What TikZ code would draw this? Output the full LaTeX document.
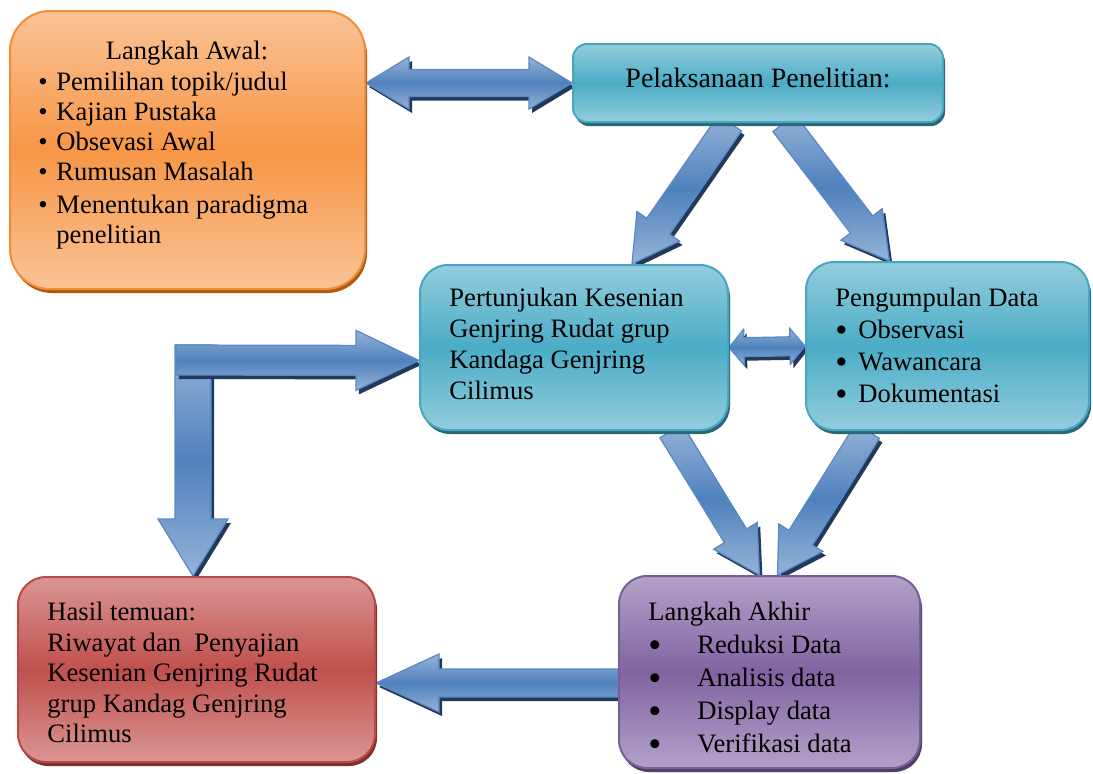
\documentclass[tikz,border=0pt]{standalone}
\usepackage{fontspec}
\setmainfont{Liberation Serif}
\usepackage{graphicx}
\usepackage{tikz}
\usetikzlibrary{
  calc,%
  % drop shadows for boxes and block arrows
  shadows,%
  positioning
}
\definecolor{orangelight}{HTML}{FAC396}
\definecolor{orangemid}{HTML}{F79646}
\definecolor{orangeline}{HTML}{F08C3A}
\definecolor{orangedark}{HTML}{B35A12}
\definecolor{teallight}{HTML}{93CDDD}
\definecolor{tealmid}{HTML}{4BACC6}
\definecolor{tealline}{HTML}{47A7C1}
\definecolor{tealdark}{HTML}{2B6877}
\definecolor{purplelight}{HTML}{B3A2C7}
\definecolor{purplemid}{HTML}{8064A2}
\definecolor{purpleline}{HTML}{7A5E9C}
\definecolor{purpledark}{HTML}{4F3D66}
\definecolor{redlight}{HTML}{DA9694}
\definecolor{redmid}{HTML}{C0504D}
\definecolor{redline}{HTML}{BA4A47}
\definecolor{reddark}{HTML}{7E302E}
\definecolor{arrowlight}{HTML}{95B3D7}
\definecolor{arrowmid}{HTML}{4F81BD}
\definecolor{arrowline}{HTML}{5888C6}
\definecolor{arrowdark}{HTML}{22395A}

\pgfdeclarelayer{background}
\pgfsetlayers{background,main}

\tikzset{>=latex}
\tikzset{
  boxshape/.style={rounded corners=14pt, line width=1pt, inner sep=0pt},
  orangebox/.style={boxshape, draw=orangeline, top color=orangelight, bottom color=orangelight, middle color=orangemid,
    drop shadow={fill=orangedark, opacity=1, shadow xshift=1pt, shadow yshift=-2pt}},
  tealbox/.style={boxshape, draw=tealline, top color=teallight, bottom color=teallight, middle color=tealmid,
    drop shadow={fill=tealdark, opacity=1, shadow xshift=1pt, shadow yshift=-2pt}},
  purplebox/.style={boxshape, draw=purpleline, top color=purplelight, bottom color=purplelight, middle color=purplemid,
    drop shadow={fill=purpledark, opacity=1, shadow xshift=1pt, shadow yshift=-2pt}},
  redbox/.style={boxshape, draw=redline, top color=redlight, bottom color=redlight, middle color=redmid,
    drop shadow={fill=reddark, opacity=1, shadow xshift=1pt, shadow yshift=-2pt}},
  lines/.style={font=\fontsize{13.3pt}{#1}\selectfont, align=left, inner sep=0pt, anchor=north west},
  blockbody/.style={draw=arrowline, line width=0.6pt, top color=arrowlight, bottom color=arrowlight, middle color=arrowmid,
    drop shadow={fill=arrowdark, opacity=1, shadow xshift=1.5pt, shadow yshift=-2pt}}
}

\newcommand{\bul}[1]{\makebox[#1][l]{\textbullet}}
% bigger bullet: box width, scale, lowering
\newcommand{\bigbul}[3]{\makebox[#1][l]{\raisebox{#3}[0pt][0pt]{\scalebox{#2}{\textbullet}}}}

% block arrow: start, tip, shaft half width, head half width, head length
\newcommand{\blockarrow}[5]{%
  \coordinate (ba-s) at #1;
  \coordinate (ba-e) at #2;
  \coordinate (ba-h) at ($(ba-e)!#5!(ba-s)$);
  \path[blockbody] ($(ba-s)!#3!90:(ba-e)$) -- ($(ba-h)!#3!90:(ba-e)$) -- ($(ba-h)!#4!90:(ba-e)$) -- (ba-e)
    -- ($(ba-h)!#4!-90:(ba-e)$) -- ($(ba-h)!#3!-90:(ba-e)$) -- ($(ba-s)!#3!-90:(ba-e)$) -- cycle;
}
% same, with a head on both ends
\newcommand{\dblarrow}[5]{%
  \coordinate (da-s) at #1;
  \coordinate (da-e) at #2;
  \coordinate (da-h) at ($(da-s)!#5!(da-e)$);
  \coordinate (da-k) at ($(da-e)!#5!(da-s)$);
  \path[blockbody] (da-s) -- ($(da-h)!#4!90:(da-e)$) -- ($(da-h)!#3!90:(da-e)$) -- ($(da-k)!#3!90:(da-e)$)
    -- ($(da-k)!#4!90:(da-e)$) -- (da-e) -- ($(da-k)!#4!-90:(da-e)$) -- ($(da-k)!#3!-90:(da-e)$)
    -- ($(da-h)!#3!-90:(da-e)$) -- ($(da-h)!#4!-90:(da-e)$) -- cycle;
}

\begin{document}
\begin{tikzpicture}[x=0.5pt, y=-0.5pt]
  \path[use as bounding box] (0,0) rectangle (1093,773);

  % boxes
  \node[orangebox, rounded corners=20pt, minimum width=177.5pt, minimum height=139pt] (awal) at (187.5,150) {};
  \node[tealbox, rounded corners=7pt, minimum width=185pt, minimum height=39pt] (pel) at (758,83) {};
  \node[tealbox, minimum width=154pt, minimum height=82.5pt] (pert) at (574,347.5) {};
  \node[tealbox, minimum width=141.5pt, minimum height=84pt] (peng) at (947.5,346) {};
  \node[purplebox, minimum width=150.5pt, minimum height=96pt] (akhir) at (769.5,672) {};
  \node[redbox, minimum width=178.5pt, minimum height=92.5pt] (hasil) at (196.5,669.5) {};

  % texts
  \node[font=\fontsize{13.3pt}{15pt}\selectfont, anchor=base] (awaltitle) at (187,59) {Langkah Awal:};
  \node[lines=15pt] (awallist) at (38,72) {\bul{9pt}Pemilihan topik/judul\\\bul{9pt}Kajian Pustaka\\\bul{9pt}Obsevasi Awal\\\bul{9pt}Rumusan Masalah\\[1.5pt]\bul{9pt}Menentukan paradigma\\\hspace*{9pt}penelitian};
  \node[font=\fontsize{14pt}{16pt}\selectfont, anchor=base] (peltext) at (758,87) {Pelaksanaan Penelitian:};
  \node[lines=15.5pt] (perttext) at (449,288) {Pertunjukan Kesenian\\Genjring Rudat grup\\Kandaga Genjring\\Cilimus};
  \node[lines=16pt] (pengtext) at (835,288) {Pengumpulan Data\\\bigbul{11.5pt}{1.3}{-1.3pt}Observasi\\\bigbul{11.5pt}{1.3}{-1.3pt}Wawancara\\\bigbul{11.5pt}{1.3}{-1.3pt}Dokumentasi};
  \node[lines=16.5pt] (akhirtext) at (648,602) {Langkah Akhir\\\bigbul{24.5pt}{1.4}{-1.8pt}Reduksi Data\\\bigbul{24.5pt}{1.4}{-1.8pt}Analisis data\\\bigbul{24.5pt}{1.4}{-1.8pt}Display data\\\bigbul{24.5pt}{1.4}{-1.8pt}Verifikasi data};
  \node[lines=15.25pt] (hasiltext) at (47,602) {Hasil temuan:\\Riwayat dan~ Penyajian\\Kesenian Genjring Rudat\\grup Kandag Genjring\\Cilimus};

  % arrows, under the boxes
  \begin{pgfonlayer}{background}
    \fill[white] (0,0) rectangle (1093,773);
    \dblarrow{(awal.east |- pel.west)}{(pel.west)}{6.75pt}{13pt}{21.5pt}
    \blockarrow{($(pel.south)+(-28,0)$)}{($(pert.north)+(58,0)$)}{7pt}{13pt}{23pt}
    \blockarrow{($(pel.south)+(26,0)$)}{($(peng.north)+(-58,0)$)}{7pt}{13pt}{23pt}
    \dblarrow{(pert.east)}{(peng.west)}{4.75pt}{9pt}{7.5pt}
    \blockarrow{($(pert.south)+(97,0)$)}{($(akhir.north)+(-10,0)$)}{6.5pt}{12.8pt}{23pt}
    \blockarrow{($(peng.south)+(-80,0)$)}{($(akhir.north)+(8,0)$)}{7pt}{13pt}{22pt}
    \blockarrow{($(akhir.west)+(0,11)$)}{($(hasil.east)+(0,13.5)$)}{7pt}{14.5pt}{31.5pt}
    \coordinate (knee) at (193,345);
    \blockarrow{(knee)}{($(hasil.north)+(-3.5,0)$)}{9pt}{17.5pt}{28.5pt}
    \blockarrow{($(knee)+(-17,15)$)}{($(pert.west)+(0,13)$)}{7.5pt}{15pt}{31.5pt}
  \end{pgfonlayer}
\end{tikzpicture}
\end{document}
